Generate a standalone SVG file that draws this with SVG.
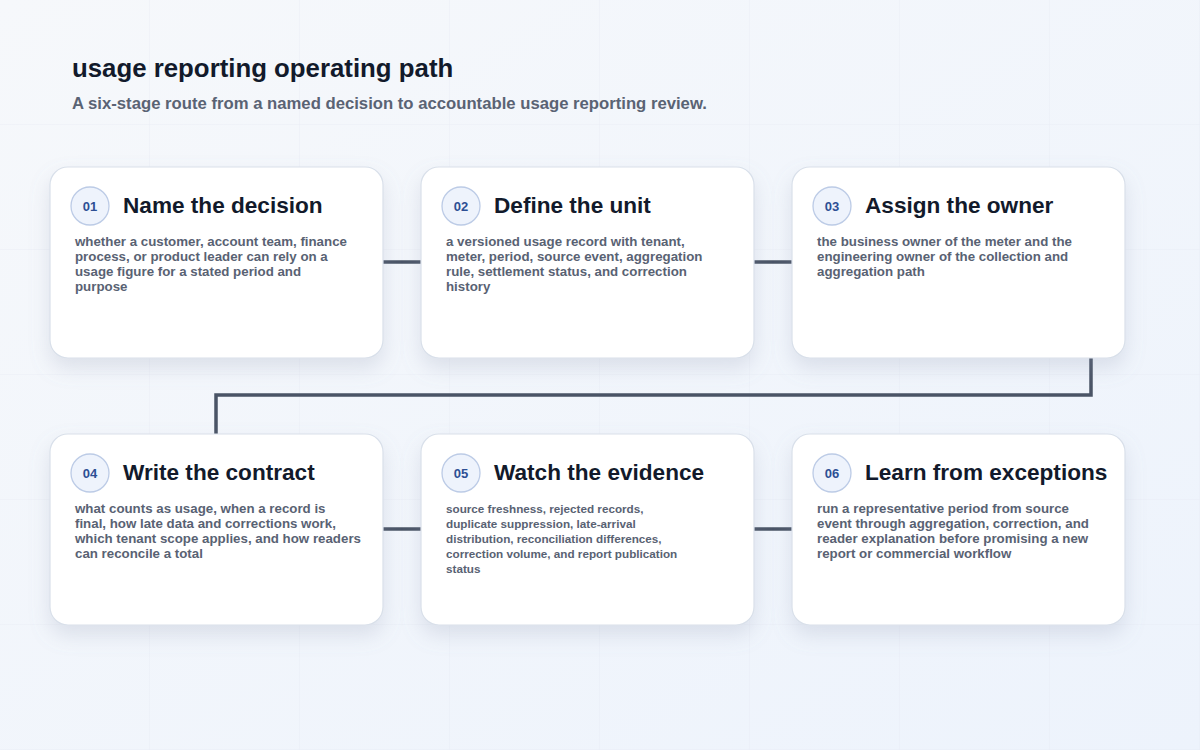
<svg xmlns="http://www.w3.org/2000/svg" width="1200" height="750" viewBox="0 0 1200 750">
<defs>
<linearGradient id="bg" x1="0" y1="0" x2="1" y2="1">
<stop offset="0" stop-color="#f6f8fb"/>
<stop offset="1" stop-color="#edf3fc"/>
</linearGradient>
<pattern id="grid" width="150" height="125" patternUnits="userSpaceOnUse" x="0" y="0">
<path d="M150 0V125M0 125H150" fill="none" stroke="#e3e8f0" stroke-width="1" opacity="0.6"/>
</pattern>
<filter id="shadow" x="-20%" y="-20%" width="140%" height="150%">
<feDropShadow dx="0" dy="10" stdDeviation="10" flood-color="#8793ad" flood-opacity="0.22"/>
</filter>
</defs>
<style>
.card{fill:#ffffff;stroke:#d9e0ea;stroke-width:1.2}
.badge{fill:#eef3fc;stroke:#bccbe6;stroke-width:1.3}
.num{font-family:"Liberation Sans",Arial,sans-serif;font-size:13px;font-weight:700;fill:#2d4f94;text-anchor:middle}
.ttl{font-family:"Liberation Sans",Arial,sans-serif;font-size:22.6px;font-weight:700;fill:#121a2b}
.body{font-family:"Liberation Sans",Arial,sans-serif;font-size:13.3px;font-weight:700;fill:#596273}
.sm{font-size:11.7px}
.conn{fill:none;stroke:#4a5466;stroke-width:3.5;stroke-linejoin:miter}
</style>
<rect width="1200" height="750" fill="url(#bg)"/>
<rect width="1200" height="750" fill="url(#grid)"/>
<text x="72" y="77" font-family="'Liberation Sans',Arial,sans-serif" font-size="25.8" font-weight="700" fill="#121a2b">usage reporting operating path</text>
<text x="72" y="109" font-family="'Liberation Sans',Arial,sans-serif" font-size="16.7" font-weight="700" fill="#5a6374">A six-stage route from a named decision to accountable usage reporting review.</text>
<g id="connectors">
<path class="conn" d="M383 262H421"/>
<path class="conn" d="M754 262H792"/>
<path class="conn" d="M1091 358V395H216V434"/>
<path class="conn" d="M383 529H421"/>
<path class="conn" d="M754 529H792"/>
</g>
<g id="node1">
<rect class="card" x="50" y="167" width="333" height="191" rx="18" filter="url(#shadow)"/>
<circle class="badge" cx="90" cy="206" r="19"/>
<text class="num" x="90" y="211">01</text>
<text class="ttl" x="123" y="213">Name the decision</text>
<text class="body" x="75" y="246">whether a customer, account team, finance</text>
<text class="body" x="75" y="261">process, or product leader can rely on a</text>
<text class="body" x="75" y="276">usage figure for a stated period and</text>
<text class="body" x="75" y="291">purpose</text>
</g>
<g id="node2">
<rect class="card" x="421" y="167" width="333" height="191" rx="18" filter="url(#shadow)"/>
<circle class="badge" cx="461" cy="206" r="19"/>
<text class="num" x="461" y="211">02</text>
<text class="ttl" x="494" y="213">Define the unit</text>
<text class="body" x="446" y="246">a versioned usage record with tenant,</text>
<text class="body" x="446" y="261">meter, period, source event, aggregation</text>
<text class="body" x="446" y="276">rule, settlement status, and correction</text>
<text class="body" x="446" y="291">history</text>
</g>
<g id="node3">
<rect class="card" x="792" y="167" width="333" height="191" rx="18" filter="url(#shadow)"/>
<circle class="badge" cx="832" cy="206" r="19"/>
<text class="num" x="832" y="211">03</text>
<text class="ttl" x="865" y="213">Assign the owner</text>
<text class="body" x="817" y="246">the business owner of the meter and the</text>
<text class="body" x="817" y="261">engineering owner of the collection and</text>
<text class="body" x="817" y="276">aggregation path</text>
</g>
<g id="node4">
<rect class="card" x="50" y="434" width="333" height="191" rx="18" filter="url(#shadow)"/>
<circle class="badge" cx="90" cy="473" r="19"/>
<text class="num" x="90" y="478">04</text>
<text class="ttl" x="123" y="480">Write the contract</text>
<text class="body" x="75" y="513">what counts as usage, when a record is</text>
<text class="body" x="75" y="528">final, how late data and corrections work,</text>
<text class="body" x="75" y="543">which tenant scope applies, and how readers</text>
<text class="body" x="75" y="558">can reconcile a total</text>
</g>
<g id="node5">
<rect class="card" x="421" y="434" width="333" height="191" rx="18" filter="url(#shadow)"/>
<circle class="badge" cx="461" cy="473" r="19"/>
<text class="num" x="461" y="478">05</text>
<text class="ttl" x="494" y="480">Watch the evidence</text>
<text class="body sm" x="446" y="513">source freshness, rejected records,</text>
<text class="body sm" x="446" y="528">duplicate suppression, late-arrival</text>
<text class="body sm" x="446" y="543">distribution, reconciliation differences,</text>
<text class="body sm" x="446" y="558">correction volume, and report publication</text>
<text class="body sm" x="446" y="573">status</text>
</g>
<g id="node6">
<rect class="card" x="792" y="434" width="333" height="191" rx="18" filter="url(#shadow)"/>
<circle class="badge" cx="832" cy="473" r="19"/>
<text class="num" x="832" y="478">06</text>
<text class="ttl" x="865" y="480">Learn from exceptions</text>
<text class="body" x="817" y="513">run a representative period from source</text>
<text class="body" x="817" y="528">event through aggregation, correction, and</text>
<text class="body" x="817" y="543">reader explanation before promising a new</text>
<text class="body" x="817" y="558">report or commercial workflow</text>
</g>
</svg>
